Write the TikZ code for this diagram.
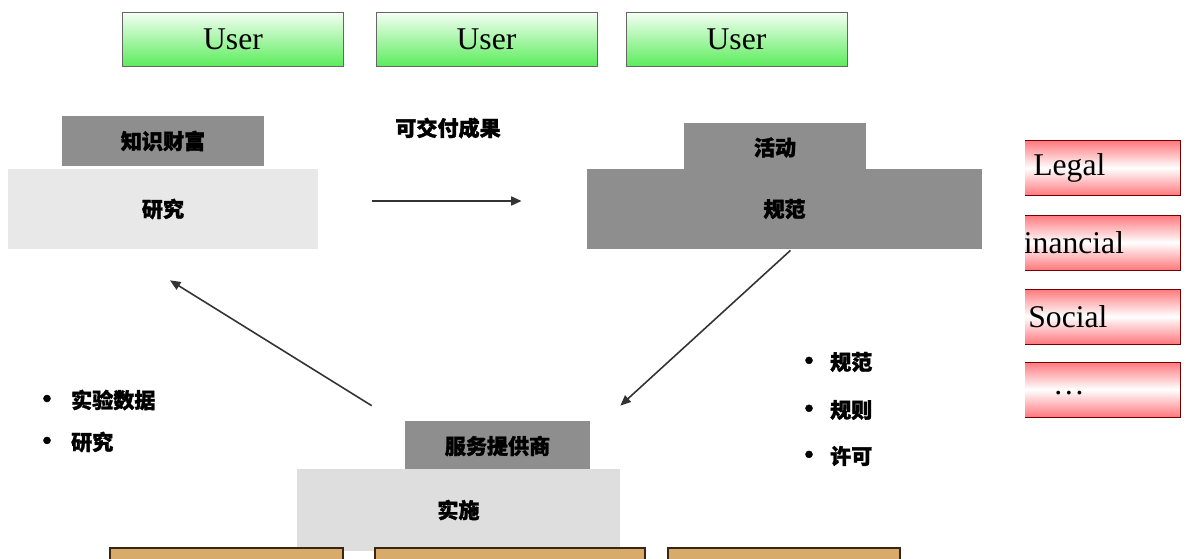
\documentclass[tikz,border=0pt]{standalone}
\usepackage{fontspec}
\setmainfont{Liberation Serif}
\newfontfamily\cjk[BoldFeatures={FakeBold=1.5}]{Noto Sans CJK SC}
\usepackage{tikz}
\usetikzlibrary{arrows.meta,calc}
\definecolor{usergreen}{RGB}{92,236,92}
\definecolor{tagred}{RGB}{255,120,125}
\definecolor{darkgrey}{RGB}{142,142,142}
\definecolor{lightgrey}{RGB}{232,232,232}
\definecolor{tan}{RGB}{216,170,108}

\begin{document}
\begin{tikzpicture}[x=0.02cm, y=-0.02cm,
    userbox/.style={rectangle, draw=black!60, top color=green!4, bottom color=usergreen,
                    minimum width=4.42cm, minimum height=1.08cm, inner sep=0pt,
                    font=\fontsize{18}{20}\selectfont},
    tagbox/.style={rectangle, draw=black!55!red, top color=tagred, bottom color=tagred, middle color=white,
                   minimum width=3.8cm, minimum height=1.1cm, inner sep=0pt},
    tagtext/.style={anchor=west, inner sep=0pt, font=\fontsize{18}{20}\selectfont},
    roof/.style={rectangle, fill=darkgrey, minimum height=1cm, inner sep=0pt,
                 font=\cjk\bfseries\fontsize{12}{14}\selectfont},
    base/.style={rectangle, fill=lightgrey, minimum height=1.6cm, inner sep=0pt,
                 font=\cjk\bfseries\fontsize{12}{14}\selectfont},
    item/.style={anchor=west, inner sep=0pt, font=\cjk\bfseries\fontsize{12}{14}\selectfont},
    flow/.style={-{Triangle[length=6pt,width=5pt]}, black!80, line width=0.9pt}
  ]
    \useasboundingbox (0,0) rectangle (1186,558);

    % users
    \node[userbox] (user1) at (233,39) {User};
    \node[userbox] (user2) at (486.5,39) {User};
    \node[userbox] (user3) at (736.5,39) {User};

    % research
    \node[roof, minimum width=4.04cm] (wealth) at (163,141) {知识财富};
    \node[base, minimum width=6.2cm] (research) at (163,209) {研究};

    % specification
    \node[roof, minimum width=3.64cm, minimum height=0.98cm] (activity) at (775,147.5) {活动};
    \node[base, fill=darkgrey, minimum width=7.9cm] (spec) at (784.5,209) {规范};

    % implementation
    \node[roof, minimum width=3.7cm] (provider) at (497.5,446) {服务提供商};
    \node[base, fill=black!13, minimum width=6.46cm, minimum height=1.64cm] (impl) at (458.5,510) {实施};

    \node[item, anchor=center] (deliver) at (448,128) {可交付成果};

    \draw[flow, line width=1.2pt] ($(research.east)+(54,-8)$) -- ($(spec.west)+(-65,-8)$);
    \draw[flow] ($(spec.south)+(6,1)$) -- ($(provider.north east)+(30,-15)$);
    \draw[flow] ($(provider.north west)+(-33,-15)$) -- ($(research.south)+(7,31)$);

    % bullet lists
    \node[item] (data) at (34,400) {{\Large\textbullet}\hskip 0.23cm 实验数据};
    \node[item] (study) at (34,442) {{\Large\textbullet}\hskip 0.23cm 研究};
    \node[item] (rule1) at (796,362) {{\Large\textbullet}\hskip 0.17cm 规范};
    \node[item] (rule2) at (796,410) {{\Large\textbullet}\hskip 0.17cm 规则};
    \node[item] (rule3) at (796,456) {{\Large\textbullet}\hskip 0.17cm 许可};

    % aspects
    \begin{scope}
      \clip (1025,0) rectangle (1186,558);
      \node[tagbox] (legal) at (1085,168) {};
      \node[tagbox] (financial) at (1085,242.5) {};
      \node[tagbox] (social) at (1085,316.5) {};
      \node[tagbox] (more) at (1085,389.5) {};
      \node[tagtext] at (1033,168) {Legal};
      \node[tagtext] at (1006,242.5) {Financial};
      \node[tagtext] at (1028,316.5) {Social};
      \node[tagtext, anchor=center] at (1069,393) {\dots};
    \end{scope}

    % bottom row
    \begin{scope}
      \clip (0,0) rectangle (1186,558);
      \foreach \x/\w in {110/233, 375/270, 668/232}
        \draw[fill=tan, draw=black!70!brown, line width=1pt] (\x,548) rectangle ++(\w,30);
    \end{scope}
  \end{tikzpicture}
\end{document}
